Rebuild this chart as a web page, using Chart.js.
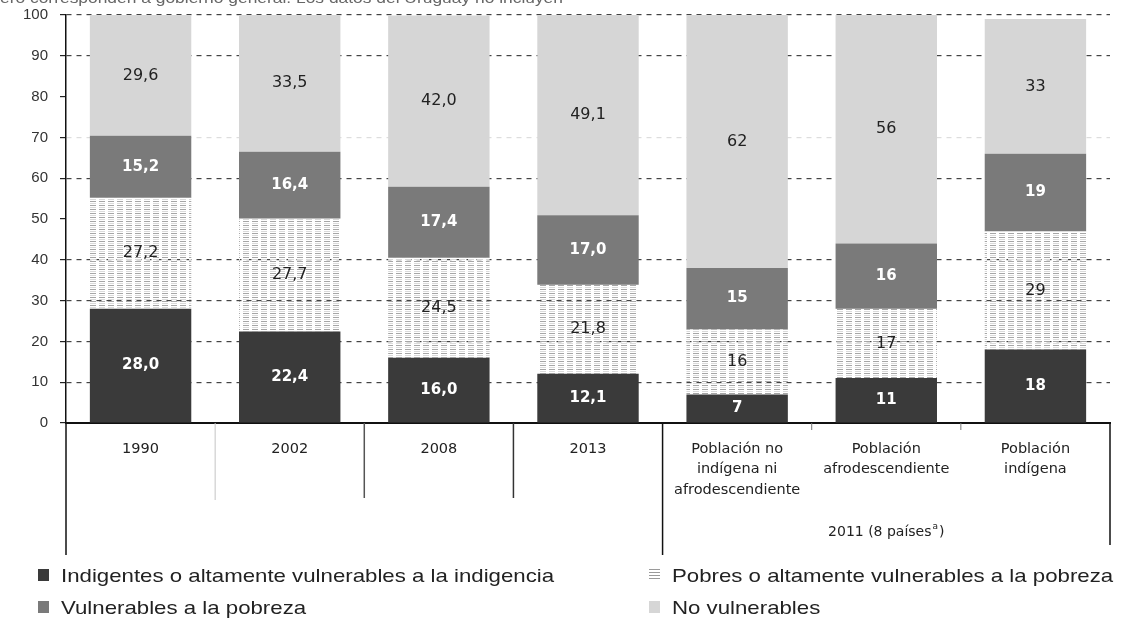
<!DOCTYPE html>
<html><head><meta charset="utf-8">
<script src="https://cdn.jsdelivr.net/npm/chart.js@4/dist/chart.umd.min.js"></script>
<style>
html,body{margin:0;padding:0;background:#fff;}
#wrap{position:relative;width:1131px;height:623px;overflow:hidden;font-family:"Liberation Sans",Arial,sans-serif;}
#c{position:absolute;left:0;top:0;}
.note{position:absolute;left:0;top:-10px;font-size:15px;line-height:1;color:#666;white-space:nowrap;transform:scaleX(1.16);transform-origin:0 0;}
.leg{position:absolute;font-size:19px;line-height:1;color:#222;white-space:nowrap;transform:scaleX(1.17);transform-origin:0 0;}
.sw{position:absolute;width:11px;height:12px;}
</style></head>
<body>
<div id="wrap">
<canvas id="c" width="1131" height="623"></canvas>
<div class="note">ero corresponden a gobierno general. Los datos del Uruguay no incluyen</div>
<div class="sw" style="left:38px;top:569px;background:#3a3a3a"></div>
<div class="leg" style="left:61px;top:566px">Indigentes o altamente vulnerables a la indigencia</div>
<div class="sw" style="left:649px;top:569px;background:repeating-linear-gradient(to bottom,#9a9a9a 0 1px,transparent 1px 3px)"></div>
<div class="leg" style="left:672px;top:566px">Pobres o altamente vulnerables a la pobreza</div>
<div class="sw" style="left:38px;top:601px;background:#7a7a7a"></div>
<div class="leg" style="left:61px;top:598px">Vulnerables a la pobreza</div>
<div class="sw" style="left:649px;top:601px;background:#d6d6d6"></div>
<div class="leg" style="left:672px;top:598px">No vulnerables</div>
</div>
<script>
const categories = ['1990','2002','2008','2013',['Población no','indígena ni','afrodescendiente'],['Población','afrodescendiente'],['Población','indígena']];
const indigentes    = [28.0, 22.4, 16.0, 12.1, 7, 11, 18];
const pobres        = [27.2, 27.7, 24.5, 21.8, 16, 17, 29];
const vulnerables   = [15.2, 16.4, 17.4, 17.0, 15, 16, 19];
const noVulnerables = [29.6, 33.5, 42.0, 49.1, 62, 56, 33];
const decimals      = [1, 1, 1, 1, 0, 0, 0];
const yMin = 0, yMax = 100, yStep = 10;
const groupText = '2011 (8 países';
const groupSup = 'a';

const FONT = '"Liberation Sans", Arial, sans-serif';
const WIDE = '"DejaVu Sans", sans-serif';

function makePattern(){
  const c = document.createElement('canvas'); c.width = 9; c.height = 4;
  const x = c.getContext('2d');
  x.fillStyle = '#a6a6a6'; x.fillRect(0, 1, 6, 1);
  x.fillStyle = '#dadada'; x.fillRect(0, 3, 6, 1);
  return x.createPattern(c, 'repeat');
}

const overlay = {
  id: 'overlay',
  afterDatasetsDraw(chart){
    const ctx = chart.ctx;
    ctx.save();
    ctx.textAlign = 'center'; ctx.textBaseline = 'middle';
    chart.data.datasets.forEach((ds, di) => {
      const meta = chart.getDatasetMeta(di);
      meta.data.forEach((bar, i) => {
        const v = ds.data[i];
        const txt = v.toFixed(decimals[i]).replace('.', ',');
        const cy = (bar.y + bar.base) / 2;
        ctx.font = ds.lblBold ? 'bold 15px ' + WIDE : '16px ' + WIDE;
        ctx.fillStyle = ds.lblColor;
        ctx.fillText(txt, bar.x, cy);
      });
    });
    ctx.restore();
  },
  afterDraw(chart){
    const ctx = chart.ctx, xs = chart.scales.x, a = chart.chartArea;
    const b = i => (xs.getPixelForValue(i) + xs.getPixelForValue(i + 1)) / 2;
    const line = (x, y1, y2, color, w) => {
      ctx.beginPath(); ctx.strokeStyle = color; ctx.lineWidth = w;
      ctx.moveTo(x, y1); ctx.lineTo(x, y2); ctx.stroke();
    };
    ctx.save();
    line(a.left, a.bottom, 555, '#111', 1.5);
    line(b(0), a.bottom, 500, '#c4c4c4', 1);
    line(b(1), a.bottom, 498, '#555', 1.5);
    line(b(2), a.bottom, 498, '#333', 1.5);
    line(b(3), a.bottom, 555, '#111', 1.5);
    line(b(4), a.bottom, a.bottom + 7, '#777', 1);
    line(b(5), a.bottom, a.bottom + 7, '#777', 1);
    line(a.right, a.bottom, 545, '#111', 1.5);
    // group label
    const cx = (b(3) + a.right) / 2;
    ctx.fillStyle = '#222';
    ctx.textBaseline = 'middle';
    ctx.font = '14px ' + WIDE;
    const w1 = ctx.measureText(groupText).width;
    ctx.font = '9px ' + WIDE;
    const w2 = ctx.measureText(groupSup).width;
    ctx.font = '14px ' + WIDE;
    const w3 = ctx.measureText(')').width;
    let x0 = cx - (w1 + w2 + w3 + 2) / 2;
    ctx.textAlign = 'left';
    ctx.fillText(groupText, x0, 532);
    ctx.font = '9px ' + WIDE;
    ctx.fillText(groupSup, x0 + w1 + 1, 527);
    ctx.font = '14px ' + WIDE;
    ctx.fillText(')', x0 + w1 + w2 + 2, 532);
    ctx.restore();
  }
};

new Chart(document.getElementById('c'), {
  type: 'bar',
  data: {
    labels: categories,
    datasets: [
      {label: 'Indigentes o altamente vulnerables a la indigencia', data: indigentes, backgroundColor: '#3a3a3a', lblColor: '#fff', lblBold: true},
      {label: 'Pobres o altamente vulnerables a la pobreza', data: pobres, backgroundColor: makePattern(), lblColor: '#222', lblBold: false},
      {label: 'Vulnerables a la pobreza', data: vulnerables, backgroundColor: '#7a7a7a', lblColor: '#fff', lblBold: true},
      {label: 'No vulnerables', data: noVulnerables, backgroundColor: '#d6d6d6', lblColor: '#222', lblBold: false}
    ]
  },
  options: {
    responsive: false,
    animation: false,
    layout: {padding: {left: 0, right: 21, top: 15, bottom: 0}},
    datasets: {bar: {categoryPercentage: 1.0, barPercentage: 0.68, borderWidth: 0}},
    plugins: {legend: {display: false}, tooltip: {enabled: false}},
    scales: {
      x: {
        stacked: true,
        grid: {display: false, drawTicks: false},
        border: {display: true, color: '#111', width: 2},
        ticks: {padding: 16, color: '#222', font: {family: WIDE, size: 14.5, lineHeight: 1.4}, maxRotation: 0, autoSkip: false},
        afterFit(s){ s.height = 200; s.paddingLeft = 0; s.paddingRight = 0; }
      },
      y: {
        stacked: true,
        min: yMin, max: yMax,
        grid: {
          color: c => {
            const v = c.tick ? c.tick.value : 0;
            if (v === 0) return 'rgba(0,0,0,0)';
            if (v === 80 || v === 50) return 'rgba(0,0,0,0)';
            if (v === 70) return '#dddddd';
            return '#444';
          },
          tickColor: '#222', tickLength: 6, lineWidth: 1.2
        },
        border: {display: true, color: '#111', width: 1.5, dash: [5, 5]},
        ticks: {stepSize: yStep, padding: 12, color: '#333', font: {family: FONT, size: 15}},
        afterFit(s){ s.width = 66; s.paddingTop = 0; s.paddingBottom = 0; }
      }
    }
  },
  plugins: [overlay]
});
</script>
</body></html>
